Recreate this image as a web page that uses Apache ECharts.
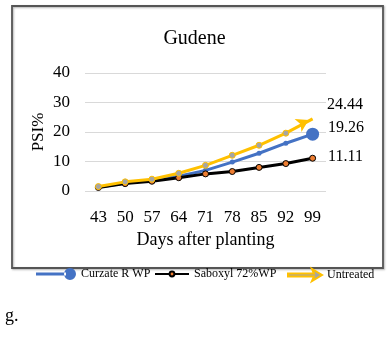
<!DOCTYPE html>
<html>
<head>
<meta charset="utf-8">
<script src="https://cdn.jsdelivr.net/npm/echarts@6/dist/echarts.min.js"></script>
<style>html,body{margin:0;padding:0;background:#fff;}#c{width:389px;height:348px;}</style>
</head>
<body>
<div id="c"></div>
<script>
var days = ['43','50','57','64','71','78','85','92','99'];
var curzate = [1.3, 2.7, 3.6, 5.0, 7.0, 9.8, 12.8, 16.2, 19.26];
var saboxyl = [1.2, 2.5, 3.3, 4.5, 5.8, 6.6, 8.0, 9.3, 11.11];
var untreated = [1.5, 3.1, 4.0, 6.0, 8.7, 12.1, 15.5, 19.6, 24.44];
var seriesNames = ['Curzate R WP', 'Saboxyl 72%WP', 'Untreated'];
var yTicks = [0, 10, 20, 30, 40];

var FONT = '"Liberation Serif", "Times New Roman", serif';

function withEnd(arr, endCfg) {
  return arr.map(function (v, i) {
    if (i === arr.length - 1) {
      var o = { value: v };
      for (var k in endCfg) o[k] = endCfg[k];
      return o;
    }
    return v;
  });
}

var legendText = { fontFamily: FONT, fontSize: 12, color: '#000' };
var iconCurzate = 'path://M0,4.6 L30,4.6 L30,7.4 L0,7.4 Z M28,6 A6,6 0 1,0 40,6 A6,6 0 1,0 28,6 Z';
var iconUntreated = 'path://M0,4.6 L26,4.6 L24,0 L34,6 L24,12 L26,7.4 L0,7.4 Z';

var chart = echarts.init(document.getElementById('c'), null, { renderer: 'canvas' });
chart.setOption({
  animation: false,
  backgroundColor: '#fff',
  title: {
    text: 'Gudene', left: 'center', top: 24,
    textStyle: { fontFamily: FONT, fontSize: 20, fontWeight: 'normal', color: '#000' }
  },
  graphic: [
    { type: 'rect', shape: { x: 12, y: 6, width: 371, height: 262 },
      style: { fill: 'none', stroke: '#555', lineWidth: 1.8, shadowBlur: 2, shadowColor: 'rgba(0,0,0,0.3)', shadowOffsetX: 1, shadowOffsetY: 1 }, z: -1 },
    { type: 'text', left: 5, top: 307,
      style: { text: 'g.', font: '18px ' + FONT, fill: '#000' } }
  ],
  legend: [
    { left: 31, top: 263, itemWidth: 40, itemHeight: 12, textStyle: legendText,
      data: [{ name: seriesNames[0], icon: iconCurzate }] },
    { left: 149, top: 263, itemWidth: 34, itemHeight: 6, itemGap: 4, textStyle: legendText,
      data: [seriesNames[1]] },
    { left: 282, top: 263, itemWidth: 34, itemHeight: 12, textStyle: legendText,
      data: [{ name: seriesNames[2], icon: iconUntreated }] }
  ],
  grid: { left: 85, right: 63, top: 73, bottom: 157 },
  xAxis: {
    type: 'category', data: days, boundaryGap: true,
    axisLine: { show: false }, axisTick: { show: false },
    axisLabel: { fontFamily: FONT, fontSize: 17, color: '#000', margin: 18 },
    name: 'Days after planting', nameLocation: 'middle', nameGap: 40,
    nameTextStyle: { fontFamily: FONT, fontSize: 18, color: '#000' }
  },
  yAxis: {
    type: 'value', min: yTicks[0], max: yTicks[yTicks.length - 1], interval: 10,
    axisLine: { show: false }, axisTick: { show: false },
    splitLine: { lineStyle: { color: '#d9d9d9', width: 1 } },
    axisLabel: { fontFamily: FONT, fontSize: 17, color: '#000', margin: 15 },
    name: 'PSI%', nameLocation: 'middle', nameGap: 38, nameRotate: 90, nameMoveOverlap: false,
    nameTextStyle: { fontFamily: FONT, fontSize: 17, color: '#000' }
  },
  series: [
    {
      name: seriesNames[0], type: 'line',
      data: withEnd(curzate, { symbolSize: 13, label: { show: true, position: 'right', offset: [4, -6], formatter: '{c}' } }),
      symbol: 'circle', symbolSize: 5,
      itemStyle: { color: '#4472C4' },
      lineStyle: { color: '#4472C4', width: 3 },
      label: { fontFamily: FONT, fontSize: 16, color: '#000' },
      z: 2
    },
    {
      name: seriesNames[1], type: 'line',
      data: withEnd(saboxyl, { label: { show: true, position: 'right', offset: [7, -1], formatter: '{c}' } }),
      symbol: 'circle', symbolSize: 6,
      itemStyle: { color: '#ED7D31', borderColor: '#000', borderWidth: 1 },
      lineStyle: { color: '#000', width: 3 },
      label: { fontFamily: FONT, fontSize: 16, color: '#000' },
      z: 3
    },
    {
      name: seriesNames[2], type: 'line',
      data: withEnd(untreated, { symbol: 'arrow', symbolSize: [11, 12], symbolRotate: -62, symbolOffset: [-4, 1],
        itemStyle: { color: '#FFC000', borderWidth: 0 },
        label: { show: true, position: 'right', offset: [10, -18], formatter: '{c}' } }),
      symbol: 'circle', symbolSize: 6,
      itemStyle: { color: '#A5A5A5', borderColor: '#FFC000', borderWidth: 1 },
      lineStyle: { color: '#FFC000', width: 3 },
      label: { fontFamily: FONT, fontSize: 16, color: '#000' },
      z: 4
    }
  ]
});
</script>
</body>
</html>
